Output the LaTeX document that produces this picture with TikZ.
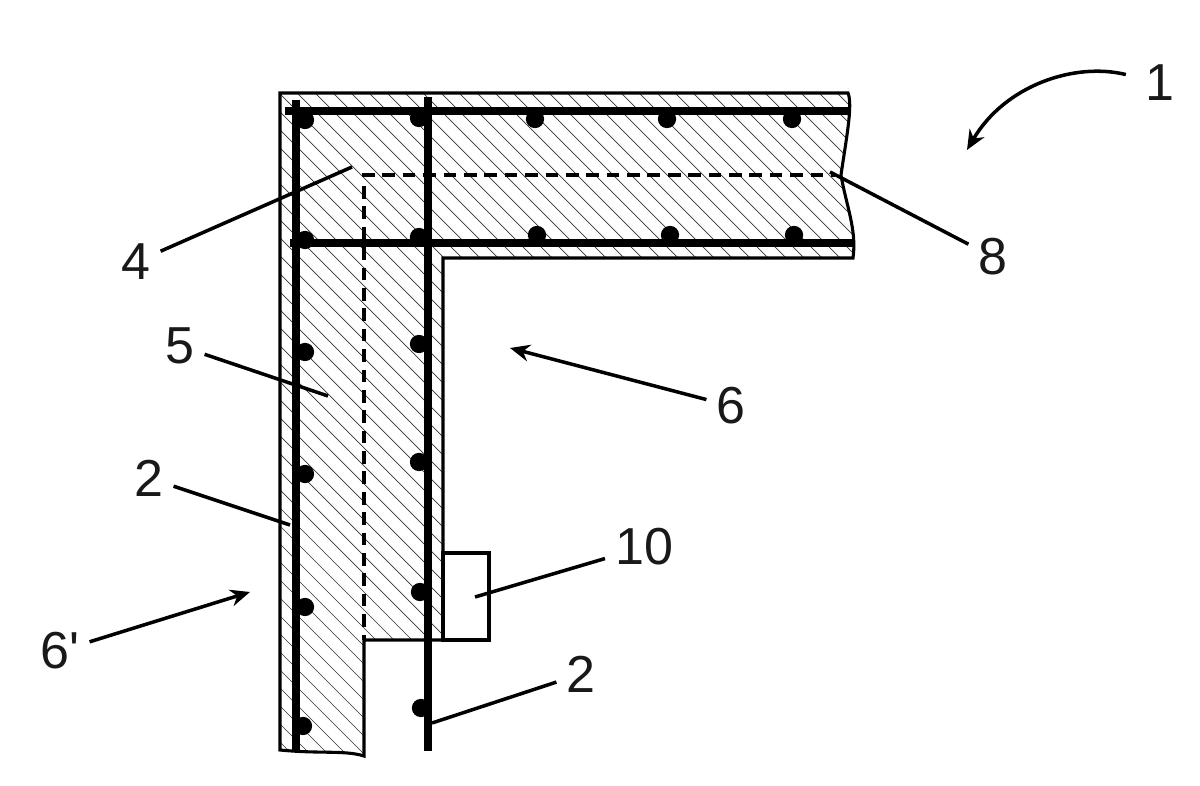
\documentclass[tikz,border=0pt]{standalone}
\usepackage{fontspec}
\setmainfont{Liberation Sans}
\usetikzlibrary{shapes,arrows,calc,arrows.meta}
\tikzset{
  refnum/.style={font=\fontsize{37}{37}\selectfont,inner sep=7pt,text=black!90},
  leader/.style={line width=2.5pt},
  pointer/.style={line width=2.5pt,-{Stealth[length=14pt,width=12pt]}},
  rebar/.style={line width=6.2pt},
  dotbar/.style={circle,fill=black,inner sep=0pt,minimum size=13pt},
  hatchline/.style={line width=0.5pt,black!80},
  hidden/.style={line width=2.4pt,dash pattern=on 9pt off 5.5pt},
  wall/.style={line width=2.2pt,line join=miter}
}
\newcommand{\wallpath}{(280,93) -- (848,93) .. controls (853,105) and (846,140) .. (841,175) .. controls (846,205) and (857,230) .. (853,258) -- (443,258) -- (443,640) -- (364,640) -- (364,756) .. controls (345,750) and (320,754) .. (280,750) -- cycle}

\begin{document}
\begin{tikzpicture}[x=0.025cm,y=-0.025cm]
  \useasboundingbox (0,0) rectangle (1200,786);
  % hatching of the concrete
  \begin{scope}
    \clip \wallpath;
    \foreach \h in {-600,-582,...,880}
      \draw[hatchline] (\h,60) -- (\h+700,760);
  \end{scope}
  \draw[wall] \wallpath;
  % box on the inner face
  \draw (466,596.5) node[draw,line width=2.2pt,minimum width=1.15cm,minimum height=2.175cm,inner sep=0pt] (box10) {};
  % dashed line
  \draw[hidden] (362,175) -- (835,175);
  \draw[hidden] (364,186) -- (364,640);
  % bars
  \draw[rebar] (285,111) -- (851,111);
  \draw[rebar] (290,243) -- (853,243);
  \draw[rebar] (296,100) -- (296,752);
  \draw[rebar] (428,97) -- (428,751);
  \foreach \bx/\by/\bname in {305/120/a,419/118/b,535/119/c,667/119/d,792/119/e,
      305/240/f,419/237/g,537/235/h,670/235/i,794/235/j,
      305/352/k,419/344/l,305/474/m,419/462/n,305/607/o,420/592/p,303/726/q,421/708/r}
    \node[dotbar] (bar\bname) at (\bx,\by) {};
  % leader ends
  \coordinate (end4) at (352,167);
  \coordinate (end8) at (830,172);
  \coordinate (end5) at (328,396);
  \coordinate (end2a) at (290,525);
  \coordinate (end2b) at (432,723);
  \coordinate (end10) at (475,597);
  \coordinate (end6) at (510,348);
  \coordinate (endpr) at (250,592);
  \coordinate (end1) at (967,150);
  % reference numbers
  \draw (1160,83) node[refnum] (num1) {1};
  \draw (993,257) node[refnum] (num8) {8};
  \draw (136,262) node[refnum] (num4) {4};
  \draw (180,346) node[refnum] (num5) {5};
  \draw (731,406) node[refnum] (num6) {6};
  \draw (149,478) node[refnum] (num2a) {2};
  \draw (644,547) node[refnum] (num10) {10};
  \draw (60,651) node[refnum] (numpr) {6\textquotesingle};
  \draw (581,674) node[refnum] (num2b) {2};
  \draw[leader] (num4) -- (end4);
  \draw[leader] (num8) -- (end8);
  \draw[leader] (num5) -- (end5);
  \draw[leader] (num2a) -- (end2a);
  \draw[leader] (num2b) -- (end2b);
  \draw[leader] (num10) -- (end10);
  \draw[pointer] (num6) -- (end6);
  \draw[pointer] (numpr) -- (endpr);
  \draw[pointer,shorten <=7pt] (num1) .. controls (1075,62) and (1005,85) .. (end1);
\end{tikzpicture}
\end{document}
